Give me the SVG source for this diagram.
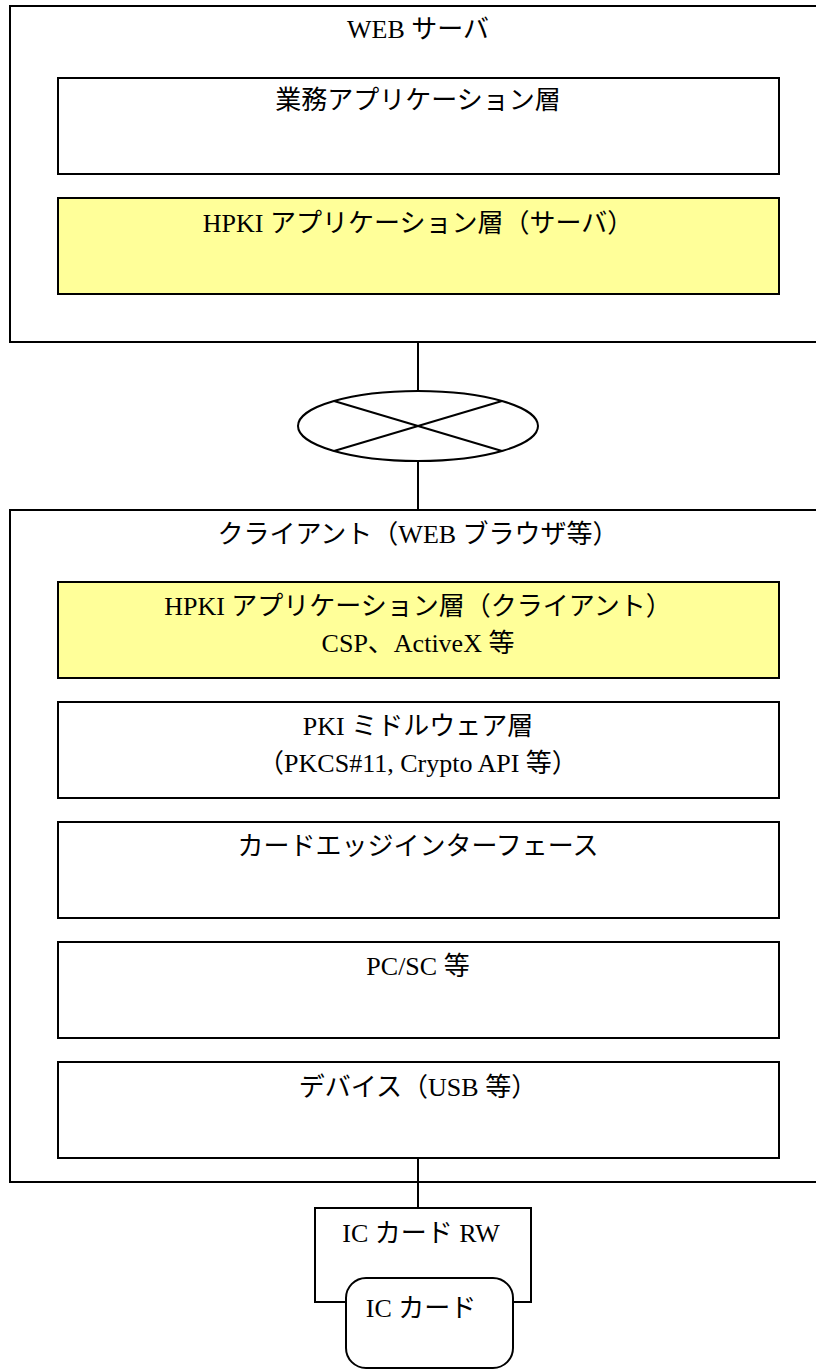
<svg xmlns="http://www.w3.org/2000/svg" width="816" height="1371" viewBox="0 0 816 1371">
<style>
.box{fill:#fff;stroke:#000;stroke-width:2}
.hl{fill:#ffff99;stroke:#000;stroke-width:2}
.ln{fill:none;stroke:#000;stroke-width:2}
text{font-family:"Liberation Serif","Noto Sans CJK JP",serif;font-size:26px;fill:#000;text-anchor:middle}
</style>
<rect width="816" height="1371" fill="#fff"/>
<g id="connectors">
<line class="ln" x1="418" y1="342" x2="418" y2="391"/>
<line class="ln" x1="418" y1="461" x2="418" y2="510"/>
<line class="ln" x1="418" y1="1158" x2="418" y2="1208"/>
</g>
<g id="web-server">
<rect class="box" x="10" y="6" width="830" height="336"/>
<text x="418" y="38">WEB サーバ</text>
</g>
<g id="business-app">
<rect class="box" x="58" y="78" width="721" height="96"/>
<text x="418" y="109">業務アプリケーション層</text>
</g>
<g id="hpki-server">
<rect class="hl" x="58" y="198" width="721" height="96"/>
<text x="418" y="232">HPKI アプリケーション層（サーバ）</text>
</g>
<g id="network">
<ellipse class="box" cx="418" cy="426" rx="120" ry="35"/>
<line class="ln" x1="334" y1="401" x2="502" y2="451"/>
<line class="ln" x1="334" y1="451" x2="502" y2="401"/>
</g>
<g id="client">
<rect class="box" x="10" y="510" width="830" height="672"/>
<text x="418" y="543">クライアント（WEB ブラウザ等）</text>
</g>
<g id="hpki-client">
<rect class="hl" x="58" y="582" width="721" height="96"/>
<text x="418" y="615">HPKI アプリケーション層（クライアント）</text>
<text x="418" y="652">CSP、ActiveX 等</text>
</g>
<g id="pki-middleware">
<rect class="box" x="58" y="702" width="721" height="96"/>
<text x="418" y="735">PKI ミドルウェア層</text>
<text x="418" y="772">（PKCS#11, Crypto API 等）</text>
</g>
<g id="card-edge">
<rect class="box" x="58" y="822" width="721" height="96"/>
<text x="418" y="855">カードエッジインターフェース</text>
</g>
<g id="pcsc">
<rect class="box" x="58" y="942" width="721" height="96"/>
<text x="418" y="975">PC/SC 等</text>
</g>
<g id="device">
<rect class="box" x="58" y="1062" width="721" height="96"/>
<text x="418" y="1096">デバイス（USB 等）</text>
</g>
<line class="ln" x1="418" y1="1158" x2="418" y2="1182"/>
<g id="ic-card-rw">
<rect class="box" x="315" y="1208" width="216" height="94"/>
<text x="421" y="1242">IC カード RW</text>
</g>
<g id="ic-card">
<rect class="box" x="346" y="1278" width="167" height="90" rx="20" ry="20"/>
<text x="421" y="1317">IC カード</text>
</g>
</svg>
